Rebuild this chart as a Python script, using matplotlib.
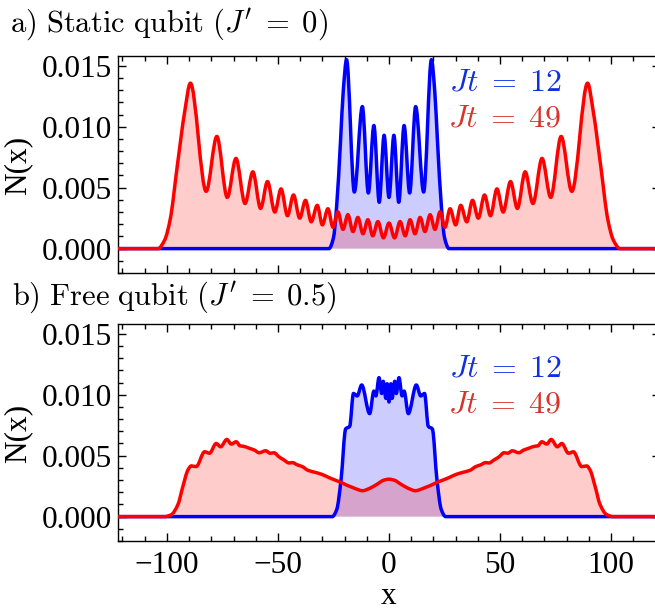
import numpy as np
import matplotlib
matplotlib.use("Agg")
import matplotlib.pyplot as plt
from matplotlib.path import Path
from matplotlib.patches import PathPatch
from matplotlib.ticker import MultipleLocator, FormatStrFormatter

# Density profiles N(x), symmetric about x = 0: only x >= 0 is listed,
# the left half is the mirror image.

# a) static qubit, Jt = 12
x_static_12 = [0.0, 2.2, 4.4, 6.8, 9.3, 12.0, 15.6, 19.1, 20.6, 21.8, 23.6, 25.0, 27.0, 122.0]
n_static_12 = [0.0042, 0.0093, 0.0038, 0.0101, 0.00456, 0.01165, 0.00464, 0.0155,
               0.0129, 0.0089, 0.0034, 0.0009, 0.0, 0.0]

# a) static qubit, Jt = 49
x_static_49 = [0.0, 2.5, 5.0, 7.3, 9.5, 11.7, 14.0, 16.2, 18.5, 20.7, 23.0, 25.2, 27.5,
               30.0, 32.3, 35.0, 37.6, 40.2, 43.0, 45.7, 48.6, 51.4, 54.7, 57.8, 61.3,
               64.8, 68.9, 72.8, 77.5, 82.3, 89.4, 92.0, 95.3, 98.5, 101.0, 104.0, 122.0]
n_static_49 = [0.0021, 0.00088, 0.00222, 0.00105, 0.00237, 0.00122, 0.00256, 0.0014,
               0.00278, 0.00158, 0.00302, 0.00175, 0.00327, 0.00195, 0.00355, 0.0022,
               0.00396, 0.0025, 0.0044, 0.0027, 0.0049, 0.0030, 0.0055, 0.0033, 0.0063,
               0.0037, 0.0074, 0.0042, 0.0092, 0.0047, 0.01357, 0.0112, 0.0068, 0.0024,
               0.0007, 0.0, 0.0]

# b) free qubit, Jt = 12
x_free_12 = [0.0, 0.8, 1.4, 2.6, 3.3, 4.5, 5.9, 6.8, 8.7, 12.3, 14.3, 16.0, 17.7, 19.5,
             21.6, 23.5, 25.5, 122.0]
n_free_12 = [0.0094, 0.0109, 0.0097, 0.0111, 0.0101, 0.0114, 0.0099, 0.0103, 0.00845,
             0.0108, 0.0099, 0.0101, 0.0074, 0.0072, 0.0030, 0.0006, 0.0, 0.0]

# b) free qubit, Jt = 49
x_free_49 = [0.0, 2.5, 5.0, 7.5, 10.0, 11.8, 14.0, 16.5, 19.0, 21.5, 24.0, 27.0, 30.0,
             33.0, 36.5, 39.0, 41.2, 43.5, 45.0, 47.3, 49.5, 51.8, 53.5, 55.5, 58.5,
             60.5, 62.8, 65.8, 67.0, 68.8, 71.0, 73.0, 75.8, 77.8, 80.8, 83.0, 86.8,
             89.0, 90.5, 92.8, 95.0, 98.0, 101.0, 122.0]
n_free_49 = [0.00307, 0.00298, 0.0027, 0.00243, 0.00222, 0.00212, 0.00222, 0.0024,
             0.00258, 0.0028, 0.00298, 0.0032, 0.00345, 0.00362, 0.0038, 0.0041,
             0.00424, 0.00443, 0.0044, 0.00465, 0.0049, 0.00524, 0.0052, 0.0054,
             0.00524, 0.00545, 0.0056, 0.00578, 0.0058, 0.00614, 0.00595, 0.00633,
             0.00573, 0.006, 0.0052, 0.00532, 0.0041, 0.00416, 0.00383, 0.00247,
             0.001, 0.00016, 0.0, 0.0]

x_ticks = [-100, -50, 0, 50, 100]
panel_titles = [r"$\mathrm{a)\ Static\ qubit}\ (J^{\prime}\;=\;0)$",
                r"$\mathrm{b)\ Free\ qubit}\ (J^{\prime}\;=\;0.5)$"]
labels = [r"$Jt\;=\;12$", r"$Jt\;=\;49$"]

BLUE = "#0000ff"
RED = "#ff0000"

plt.rcParams["mathtext.fontset"] = "cm"
plt.rcParams["font.family"] = ["Liberation Serif", "DejaVu Serif"]


def mirror(xh, yh):
    xh = np.asarray(xh, float)
    yh = np.asarray(yh, float)
    return np.concatenate([-xh[:0:-1], xh]), np.concatenate([yh[:0:-1], yh])


def smooth_path(x, y):
    """Cubic Bezier path through the points with monotone (PCHIP) tangents."""
    h = np.diff(x)
    d = np.diff(y) / h
    m = np.zeros(len(x))
    for k in range(1, len(x) - 1):
        if d[k - 1] * d[k] > 0:
            w1 = 2 * h[k] + h[k - 1]
            w2 = h[k] + 2 * h[k - 1]
            m[k] = (w1 + w2) / (w1 / d[k - 1] + w2 / d[k])
    verts = [(x[0], y[0])]
    codes = [Path.MOVETO]
    for i in range(len(x) - 1):
        verts += [(x[i] + h[i] / 3, y[i] + m[i] * h[i] / 3),
                  (x[i + 1] - h[i] / 3, y[i + 1] - m[i + 1] * h[i] / 3),
                  (x[i + 1], y[i + 1])]
        codes += [Path.CURVE4] * 3
    return verts, codes


def draw_profiles(ax, profiles):
    curves = []
    for (xh, yh), color in profiles:
        x, y = mirror(xh, yh)
        verts, codes = smooth_path(x, y)
        fill = Path(verts + [(x[-1], 0), (x[0], 0), (x[0], 0)],
                    codes + [Path.LINETO, Path.LINETO, Path.CLOSEPOLY])
        ax.add_patch(PathPatch(fill, facecolor=color, edgecolor="none", alpha=0.2, zorder=1))
        curves.append((Path(verts, codes), color))
    for path, color in curves:
        ax.add_patch(PathPatch(path, facecolor="none", edgecolor=color, lw=2.5,
                               joinstyle="round", capstyle="round", zorder=3))


W, H = 655, 611
fig = plt.figure(figsize=(W / 100, H / 100), dpi=100)
ax1 = fig.add_axes([118 / W, 1 - 273 / H, 542 / W, 217 / H])
ax2 = fig.add_axes([118 / W, 1 - 541 / H, 542 / W, 217 / H])

draw_profiles(ax1, [((x_static_12, n_static_12), BLUE), ((x_static_49, n_static_49), RED)])
draw_profiles(ax2, [((x_free_12, n_free_12), BLUE), ((x_free_49, n_free_49), RED)])

for ax in (ax1, ax2):
    ax.set_xlim(-122, 122)
    ax.set_ylim(-0.002, 0.0158)
    ax.set_xticks(x_ticks)
    ax.xaxis.set_minor_locator(MultipleLocator(10))
    ax.yaxis.set_major_locator(MultipleLocator(0.005))
    ax.yaxis.set_minor_locator(MultipleLocator(0.001))
    ax.yaxis.set_major_formatter(FormatStrFormatter("%.3f"))
    ax.tick_params(which="both", direction="in", top=True, right=True,
                   labelsize=22.5, width=1.0)
    ax.tick_params(which="major", length=6)
    ax.tick_params(which="minor", length=3.5)
    ax.tick_params(axis="y", pad=4)
    ax.tick_params(axis="x", pad=7)
    for sp in ax.spines.values():
        sp.set_linewidth(1.0)

ax1.tick_params(labelbottom=False)

# curve labels
ax1.text(27, 0.0130, labels[0], color="#1030e0", fontsize=23)
ax1.text(26.6, 0.0100, labels[1], color="#d8342c", fontsize=23)
ax2.text(27, 0.0115, labels[0], color="#1030e0", fontsize=23)
ax2.text(26.6, 0.00856, labels[1], color="#d8342c", fontsize=23)

fig.text(10 / W, 1 - 32 / H, panel_titles[0], fontsize=22, va="baseline")
fig.text(12 / W, 1 - 305 / H, panel_titles[1], fontsize=22, va="baseline")

fig.text(18 / W, 1 - 165 / H, "N(x)", rotation=90, fontsize=22.5, ha="center", va="center")
fig.text(18 / W, 1 - 433 / H, "N(x)", rotation=90, fontsize=22.5, ha="center", va="center")
fig.text(389 / W, 1 - 597 / H, "x", fontsize=22.5, ha="center", va="center")

fig.savefig("out.png", dpi=100)
